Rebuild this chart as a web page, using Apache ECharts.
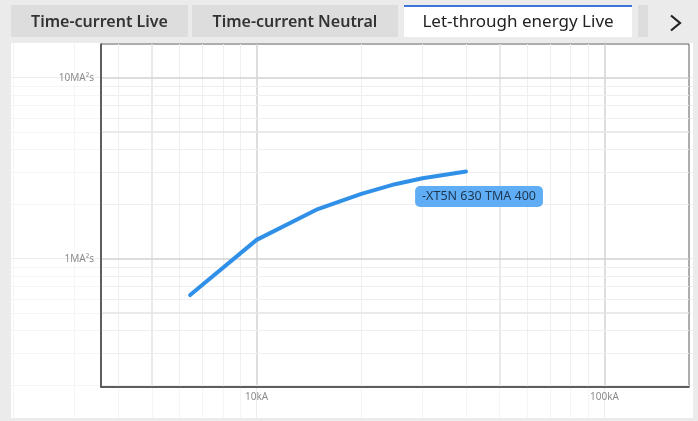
<!DOCTYPE html>
<html>
<head>
<meta charset="utf-8">
<title>Let-through energy Live</title>
<script src="https://cdn.jsdelivr.net/npm/echarts@6/dist/echarts.min.js"></script>
<style>
  html, body { margin: 0; padding: 0; background: #ebebeb; }
  #chart { width: 698px; height: 421px; }
</style>
</head>
<body>
<div id="chart"></div>
<script>
// Let-through energy curve (current in A, I²t in A²s)
const curveName = '-XT5N 630 TMA 400';
const currents = [6440, 10000, 15000, 20000, 25000, 30000, 40000];
const energies = [0.63e6, 1.27e6, 1.88e6, 2.28e6, 2.58e6, 2.78e6, 3.03e6];

// Axis ranges and grid lines
const xRange = [3570, 175000];
const yRange = [1.955e5, 1.535e7];
const xDecades = [10000, 100000];
const xHalfDecades = [5000, 50000];
const xMinors = [2000, 3000, 4000, 6000, 7000, 8000, 9000, 20000, 30000, 40000, 60000, 70000, 80000, 90000];
const yDecades = [1e6, 1e7];
const yHalfDecades = [5e5, 5e6];
const yMinors = [2e5, 3e5, 4e5, 6e5, 7e5, 8e5, 9e5, 2e6, 3e6, 4e6, 6e6, 7e6, 8e6, 9e6];

const tabs = ['Time-current Live', 'Time-current Neutral', 'Let-through energy Live'];
const activeTab = 2;

// layout
const W = 698, H = 421;
const plot = { left: 101, right: 9, top: 44, bottom: 34 };
const panel = { left: 11, right: 5, top: 43, bottom: 3 };
const tabBoxes = [[11, 188], [192, 398], [404, 632]];

// outer axis extents so faint guide lines line up with the plot scale
const lg = Math.log10;
const xPerDec = (W - plot.left - plot.right) / (lg(xRange[1]) - lg(xRange[0]));
const yPerDec = (H - plot.top - plot.bottom) / (lg(yRange[1]) - lg(yRange[0]));
const outerX = [
  Math.pow(10, lg(xRange[0]) - (plot.left - panel.left) / xPerDec),
  Math.pow(10, lg(xRange[1]) + (plot.right - panel.right) / xPerDec)
];
const outerY = [
  Math.pow(10, lg(yRange[0]) - (plot.bottom - panel.bottom) / yPerDec),
  Math.pow(10, lg(yRange[1]) + (plot.top - panel.top) / yPerDec)
];

function isDecade(v) {
  const l = lg(v);
  return Math.abs(l - Math.round(l)) < 1e-6;
}
function xLabel(v) {
  if (!isDecade(v)) return '';
  const r = Math.round(v);
  return r >= 1000 ? (r / 1000) + 'kA' : r + 'A';
}
function yLabel(v) {
  if (!isDecade(v)) return '';
  const r = Math.round(v);
  return r >= 1e6 ? (r / 1e6) + 'MA²s' : (r / 1e3) + 'kA²s';
}

function lines(axis, values, color, width) {
  return values.map(v => ({ [axis]: v, lineStyle: { color: color, width: width, type: 'solid' } }));
}
function gridLines(xs, ys, z) {
  return {
    silent: true,
    z: z,
    symbol: ['none', 'none'],
    label: { show: false },
    emphasis: { disabled: true },
    animation: false,
    data: xs.concat(ys)
  };
}

const innerMarks = gridLines(
  lines('xAxis', xMinors.filter(v => v > xRange[0] && v < xRange[1]), '#efefef', 1)
    .concat(lines('xAxis', xHalfDecades, '#e3e3e3', 1.5))
    .concat(lines('xAxis', xDecades, '#d2d2d2', 1.5)),
  lines('yAxis', yMinors.filter(v => v > yRange[0] && v < yRange[1]), '#efefef', 1)
    .concat(lines('yAxis', yHalfDecades, '#e3e3e3', 1.5))
    .concat(lines('yAxis', yDecades, '#d2d2d2', 1.5)),
  1
);

const outerMarks = gridLines(
  lines('xAxis', xMinors.concat(xHalfDecades).filter(v => v > outerX[0] && v < outerX[1]), '#f5f5f5', 1)
    .concat(lines('xAxis', xDecades, '#ededed', 1)),
  lines('yAxis', yMinors.concat(yHalfDecades).filter(v => v > outerY[0] && v < outerY[1]), '#f5f5f5', 1)
    .concat(lines('yAxis', yDecades, '#ededed', 1)),
  -1
);

// tab strip
const graphics = [{
  type: 'rect', z: -10, silent: true,
  shape: { x: panel.left, y: panel.top, width: W - panel.left - panel.right, height: H - panel.top - panel.bottom },
  style: { fill: '#ffffff' }
}];
tabs.forEach((t, i) => {
  const [x0, x1] = tabBoxes[i];
  const active = i === activeTab;
  graphics.push({
    type: 'rect', silent: true,
    shape: { x: x0, y: 5, width: x1 - x0, height: 32 },
    style: { fill: active ? '#ffffff' : '#dddddd' }
  });
  if (active) {
    graphics.push({
      type: 'rect', silent: true,
      shape: { x: x0, y: 5, width: x1 - x0, height: 2 },
      style: { fill: '#3f74dc' }
    });
  }
  graphics.push({
    type: 'text', silent: true,
    x: (x0 + x1) / 2, y: 22,
    style: {
      text: t, fill: active ? '#222222' : '#333333',
      font: (active ? '400 17px' : '600 16px') + ' "Noto Sans", sans-serif',
      align: 'center', verticalAlign: 'middle'
    }
  });
});
graphics.push({
  type: 'rect', silent: true,
  shape: { x: 638, y: 5, width: 10, height: 32 },
  style: { fill: '#dddddd' }
});
graphics.push({
  type: 'polyline', silent: true,
  shape: { points: [[671, 15.5], [680, 23], [671, 30.5]] },
  style: { stroke: '#222222', lineWidth: 2.2, fill: 'none' }
});

const chart = echarts.init(document.getElementById('chart'), null, { renderer: 'canvas' });
chart.setOption({
  animation: false,
  backgroundColor: 'transparent',
  textStyle: { fontFamily: '"Noto Sans", sans-serif' },
  graphic: graphics,
  grid: [
    {
      left: plot.left, right: plot.right, top: plot.top, bottom: plot.bottom,
      show: true, backgroundColor: '#ffffff', borderColor: '#5a5a5a', borderWidth: 1, z: 0
    },
    {
      left: panel.left, right: panel.right, top: panel.top, bottom: panel.bottom,
      show: false
    }
  ],
  xAxis: [
    {
      type: 'log', gridIndex: 0, min: xRange[0], max: xRange[1], z: 5,
      axisLine: { show: true, lineStyle: { color: '#444444', width: 1.5 } },
      axisTick: { show: false },
      splitLine: { show: false },
      axisLabel: {
        formatter: xLabel, color: '#8c8c8c', fontSize: 10, margin: 5,
        showMinLabel: false, showMaxLabel: false
      }
    },
    { type: 'log', gridIndex: 1, min: outerX[0], max: outerX[1], show: false }
  ],
  yAxis: [
    {
      type: 'log', gridIndex: 0, min: yRange[0], max: yRange[1], z: 5,
      axisLine: { show: true, lineStyle: { color: '#444444', width: 1.5 } },
      axisTick: { show: false },
      splitLine: { show: false },
      axisLabel: {
        formatter: yLabel, color: '#8c8c8c', fontSize: 10, margin: 7,
        showMinLabel: false, showMaxLabel: false
      }
    },
    { type: 'log', gridIndex: 1, min: outerY[0], max: outerY[1], show: false }
  ],
  series: [
    {
      type: 'line', xAxisIndex: 1, yAxisIndex: 1, data: [], z: -1,
      silent: true, markLine: outerMarks
    },
    {
      type: 'line', xAxisIndex: 0, yAxisIndex: 0, data: [], z: 1,
      silent: true, markLine: innerMarks
    },
    {
      name: curveName,
      type: 'line', xAxisIndex: 0, yAxisIndex: 0, z: 3,
      symbol: 'circle', symbolSize: 1, showSymbol: true,
      itemStyle: { color: 'rgba(0,0,0,0)', borderWidth: 0 },
      lineStyle: { color: '#3090e8', width: 4, cap: 'round', join: 'round' },
      label: { show: false },
      emphasis: { disabled: true },
      data: currents.map((c, i) => {
        const item = { value: [c, energies[i]] };
        if (i === currents.length - 1) {
          item.label = {
            show: true, formatter: curveName,
            position: 'bottom', distance: 14, offset: [13, 0],
            backgroundColor: '#5fadf5', borderRadius: 5,
            padding: [4, 7, 4, 7], color: '#1e3650',
            fontSize: 12.5, lineHeight: 13, fontFamily: '"Noto Sans", sans-serif'
          };
        }
        return item;
      })
    }
  ]
});
</script>
</body>
</html>
